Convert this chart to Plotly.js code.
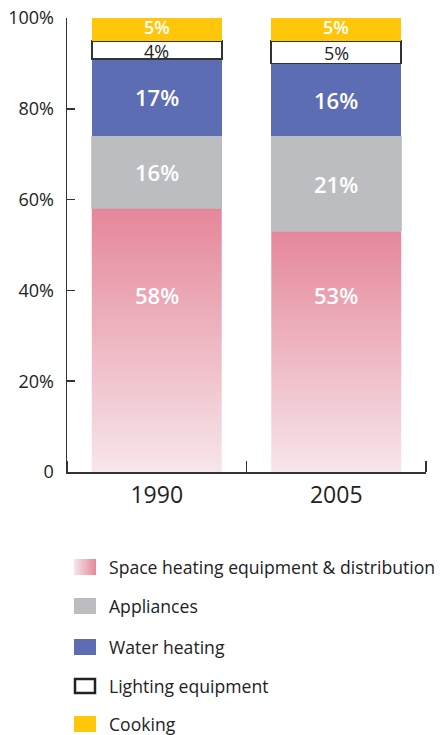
<!DOCTYPE html>
<html>
<head>
<meta charset="utf-8">
<script src="https://cdn.plot.ly/plotly-3.0.1.min.js"></script>
<style>html,body{margin:0;padding:0;background:#fff;}#chart{width:441px;height:735px;}</style>
</head>
<body>
<div id="chart"></div>
<script>
// ---- data ----
const years = ['1990', '2005'];
const spaceHeating = [58, 53];
const appliances = [16, 21];
const waterHeating = [17, 16];
const lighting = [4, 5];
const cooking = [5, 5];
const seriesNames = ['Space heating equipment & distribution', 'Appliances', 'Water heating', 'Lighting equipment', 'Cooking'];
const yTickVals = [0, 20, 40, 60, 80, 100];
const yTickText = ['0', '20%', '40%', '60%', '80%', '100%'];

// ---- style ----
const W = 441, H = 735;
const FONT = 'Open Sans, Lato, sans-serif';
const BW = 0.724;
const AX = '#333333';
const C = {
  heatTop: '#e5879a', heatBottom: '#f7e6ea',
  appl: '#bcbdc1', water: '#5c6db3', light: '#ffffff', cook: '#ffc60a'
};
const SPACE_LABEL_Y = 39;
const LABEL_SIZE = [22, 22, 22, 18, 18];
const LABEL_SHIFT = [0, 0, 0, -1, 2];

const xs = years.map((_, i) => i);
const traces = [];

// gradient space heating rectangles (drawn as filled scatter so the fill can be a gradient)
spaceHeating.forEach((v, i) => {
  traces.push({type: 'scatter', mode: 'lines', showlegend: false, hoverinfo: 'skip',
    x: [i - BW / 2, i + BW / 2, i + BW / 2, i - BW / 2, i - BW / 2],
    y: [0, 0, v, v, 0],
    fill: 'toself', line: {width: 0, color: 'rgba(0,0,0,0)'},
    fillgradient: {type: 'vertical', start: 0, stop: v,
      colorscale: [[0, C.heatBottom], [1, C.heatTop]]}
  });
});

// invisible base bar for stacking
traces.push({type: 'bar', x: xs, y: spaceHeating, width: BW, name: seriesNames[0],
  marker: {color: 'rgba(0,0,0,0)'}, hoverinfo: 'skip', showlegend: false});
traces.push({type: 'bar', x: xs, y: appliances, width: BW, name: seriesNames[1],
  marker: {color: C.appl, line: {color: C.appl, width: 0.8}}, showlegend: false});
traces.push({type: 'bar', x: xs, y: waterHeating, width: BW, name: seriesNames[2],
  marker: {color: C.water}, showlegend: false});
traces.push({type: 'bar', x: xs, y: lighting, width: BW, name: seriesNames[3],
  marker: {color: C.light, line: {color: AX, width: 1.6}}, showlegend: false});
traces.push({type: 'bar', x: xs, y: cooking, width: BW, name: seriesNames[4],
  marker: {color: C.cook}, showlegend: false});

// ---- labels ----
const annotations = [];
const stacks = [spaceHeating, appliances, waterHeating, lighting, cooking];
xs.forEach((x, i) => {
  let cum = 0;
  stacks.forEach((s, k) => {
    const v = s[i];
    const y = k === 0 ? SPACE_LABEL_Y : cum + v / 2;
    cum += v;
    const dark = k === 3;
    annotations.push({xref: 'x', yref: 'y', x: x, y: y, text: v + '%', showarrow: false,
      font: {family: FONT, size: LABEL_SIZE[k], color: dark ? '#222' : '#ffffff', weight: dark ? 400 : 600},
      yanchor: 'middle', xanchor: 'center', yshift: LABEL_SHIFT[k], borderpad: 0});
  });
});

// ---- legend (pixel coordinates on a hidden overlay axis) ----
const legRows = [567, 606, 647, 686, 724];
const legSw = {x0: 74, x1: 96, h: 16};
const shapes = [];
const swatchColors = [null, C.appl, C.water, C.light, C.cook];
legRows.forEach((cy, k) => {
  annotations.push({xref: 'x2', yref: 'y2', x: 107, y: cy, text: seriesNames[k], showarrow: false,
    xanchor: 'left', yanchor: 'middle', font: {family: FONT, size: 17.6, color: '#222'}});
  if (k === 0) {
    traces.push({type: 'scatter', mode: 'lines', xaxis: 'x2', yaxis: 'y2', showlegend: false, hoverinfo: 'skip',
      x: [legSw.x0, legSw.x1, legSw.x1, legSw.x0, legSw.x0],
      y: [cy - legSw.h / 2, cy - legSw.h / 2, cy + legSw.h / 2, cy + legSw.h / 2, cy - legSw.h / 2],
      fill: 'toself', line: {width: 0, color: 'rgba(0,0,0,0)'},
      fillgradient: {type: 'horizontal', colorscale: [[0, C.heatBottom], [1, C.heatTop]]}});
  } else {
    const outlined = k === 3;
    shapes.push({type: 'rect', xref: 'x2', yref: 'y2',
      x0: legSw.x0 + (outlined ? 1 : 0), x1: legSw.x1 - (outlined ? 1 : 0),
      y0: cy - legSw.h / 2 + (outlined ? 1 : 0), y1: cy + legSw.h / 2 - (outlined ? 1 : 0),
      fillcolor: swatchColors[k], line: {width: outlined ? 2.5 : 0, color: '#222'}});
  }
});

const layout = {
  width: W, height: H,
  margin: {l: 0, r: 0, t: 0, b: 0},
  paper_bgcolor: '#ffffff', plot_bgcolor: 'rgba(0,0,0,0)',
  barmode: 'stack', showlegend: false,
  font: {family: FONT, color: '#222'},
  xaxis: {domain: [67 / W, 426 / W], range: [-0.5, 1.5], tickvals: xs, ticktext: years,
    ticks: '', showline: true, linecolor: AX, linewidth: 1.5, showgrid: false, zeroline: false,
    tickfont: {family: FONT, size: 23, color: '#222'}, fixedrange: true, ticklabelstandoff: 2,
    minor: {tick0: 0.5, dtick: 1, ticks: 'inside', ticklen: 11, tickwidth: 1.5, tickcolor: AX, showgrid: false}},
  yaxis: {domain: [1 - 472 / H, 1 - 18 / H], range: [0, 100], tickvals: yTickVals, ticktext: yTickText,
    ticks: 'inside', ticklen: 8, tickwidth: 1.5, tickcolor: AX, showline: true, linecolor: AX, linewidth: 1.5,
    showgrid: false, zeroline: false, tickfont: {family: FONT, size: 18, color: '#222'}, fixedrange: true,
    ticklabelstandoff: 8},
  xaxis2: {domain: [0, 1], range: [0, W], anchor: 'y2', visible: false, fixedrange: true},
  yaxis2: {domain: [0, 1], range: [H, 0], anchor: 'x2', visible: false, fixedrange: true},
  annotations: annotations, shapes: shapes
};

Plotly.newPlot('chart', traces, layout, {staticPlot: true, displayModeBar: false});
</script>
</body>
</html>
